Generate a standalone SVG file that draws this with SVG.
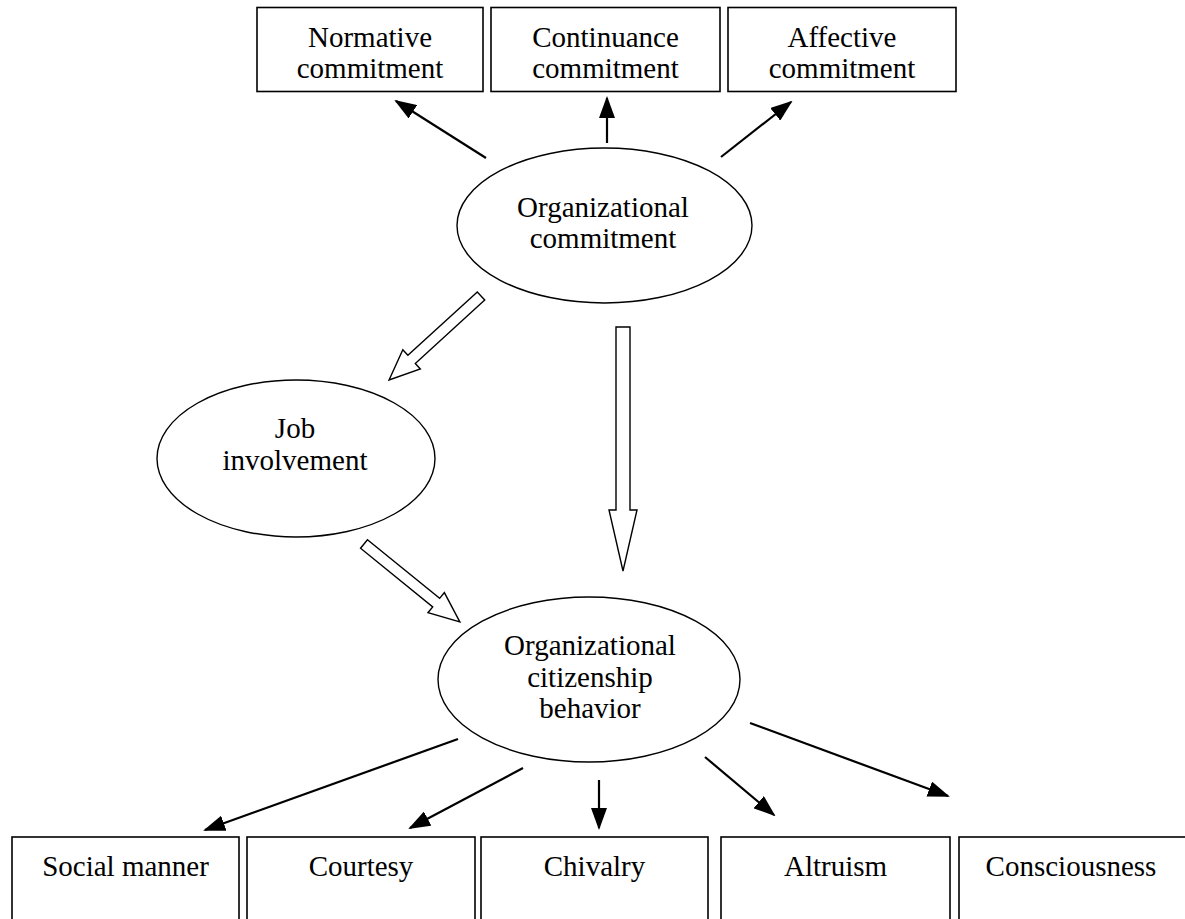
<svg xmlns="http://www.w3.org/2000/svg" width="1185" height="919" viewBox="0 0 1185 919">
<style>
.box{fill:#fff;stroke:#000;stroke-width:1.6}
.ell{fill:#fff;stroke:#000;stroke-width:1.4}
.t{font-family:"Liberation Serif","Times New Roman",serif;font-size:29px;fill:#000;text-anchor:middle}
.ln{stroke:#000;stroke-width:2.2;fill:none;marker-end:url(#ah)}
.hol{fill:#fff;stroke:#000;stroke-width:1.4;stroke-linejoin:miter}
</style>
<defs>
<marker id="ah" markerUnits="userSpaceOnUse" viewBox="0 0 22 16" refX="20" refY="8" markerWidth="22" markerHeight="16" orient="auto">
<path d="M0,0 L22,8 L0,16 z" fill="#000"/>
</marker>
</defs>
<rect width="1185" height="919" fill="#fff"/>
<g id="connectors">
<line class="ln" x1="486" y1="158" x2="396" y2="101"/>
<line class="ln" x1="607" y1="143" x2="607" y2="98"/>
<line class="ln" x1="721" y1="157" x2="791" y2="102"/>
<line class="ln" x1="458" y1="739" x2="205" y2="830"/>
<line class="ln" x1="523" y1="768" x2="410" y2="828"/>
<line class="ln" x1="599" y1="780" x2="599" y2="828"/>
<line class="ln" x1="705" y1="757" x2="774" y2="815"/>
<line class="ln" x1="750" y1="723" x2="948" y2="796"/>
<polygon class="hol" transform="translate(481,296) rotate(137.6)" points="0,-5.5 94,-5.5 94,-13 124.5,0 94,13 94,5.5 0,5.5"/>
<polygon class="hol" transform="translate(364,544) rotate(39.1)" points="0,-5.5 93,-5.5 93,-13 123.5,0 93,13 93,5.5 0,5.5"/>
<polygon class="hol" points="616,327 630,327 630,510 637,510 623,571 609,510 616,510"/>
</g>
<g id="normative">
<rect class="box" x="257" y="7.5" width="226" height="84"/>
<text class="t" x="370" y="47">Normative</text>
<text class="t" x="370" y="78">commitment</text>
</g>
<g id="continuance">
<rect class="box" x="491" y="7.5" width="229" height="84"/>
<text class="t" x="605.5" y="47">Continuance</text>
<text class="t" x="605.5" y="78">commitment</text>
</g>
<g id="affective">
<rect class="box" x="728" y="7.5" width="228" height="84"/>
<text class="t" x="842" y="47">Affective</text>
<text class="t" x="842" y="78">commitment</text>
</g>
<g id="org-commitment">
<ellipse class="ell" cx="604.5" cy="225.5" rx="147.5" ry="77.5"/>
<text class="t" x="603" y="217">Organizational</text>
<text class="t" x="603" y="248">commitment</text>
</g>
<g id="job-involvement">
<ellipse class="ell" cx="296" cy="458.5" rx="139" ry="78.5"/>
<text class="t" x="295" y="438">Job</text>
<text class="t" x="295" y="470">involvement</text>
</g>
<g id="ocb">
<ellipse class="ell" cx="589" cy="679.5" rx="151" ry="82.5"/>
<text class="t" x="590" y="655">Organizational</text>
<text class="t" x="590" y="687">citizenship</text>
<text class="t" x="590" y="718">behavior</text>
</g>
<g id="social-manner">
<rect class="box" x="12" y="837" width="227" height="100"/>
<text class="t" x="125.5" y="876">Social manner</text>
</g>
<g id="courtesy">
<rect class="box" x="247" y="837" width="228" height="100"/>
<text class="t" x="361" y="876">Courtesy</text>
</g>
<g id="chivalry">
<rect class="box" x="481" y="837" width="227" height="100"/>
<text class="t" x="594.5" y="876">Chivalry</text>
</g>
<g id="altruism">
<rect class="box" x="721" y="837" width="229" height="100"/>
<text class="t" x="835.5" y="876">Altruism</text>
</g>
<g id="consciousness">
<rect class="box" x="959" y="837" width="240" height="100"/>
<text class="t" x="1071" y="876">Consciousness</text>
</g>
</svg>
